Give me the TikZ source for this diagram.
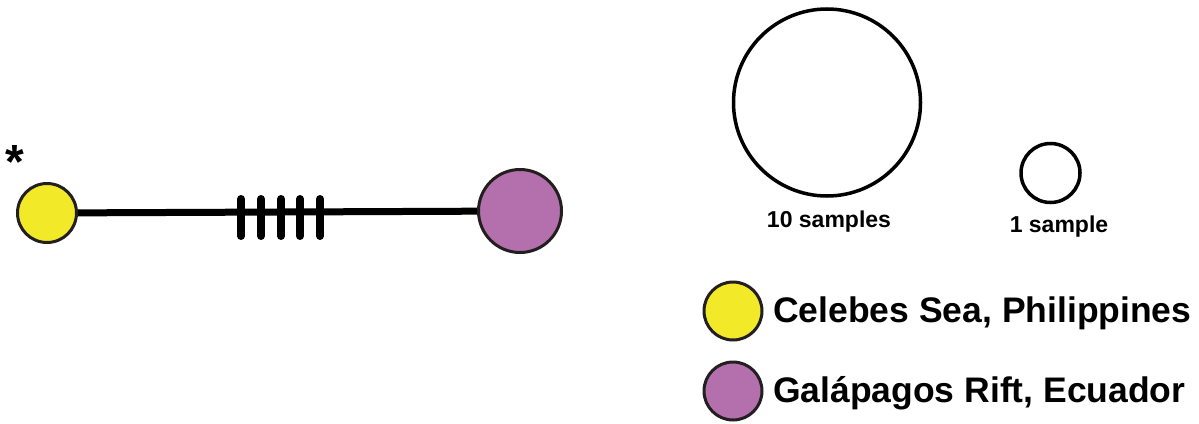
\documentclass[tikz,border=0pt]{standalone}
\usepackage{fontspec}
\setmainfont{Liberation Sans}
\definecolor{hapyellow}{RGB}{242,233,41}
\definecolor{happurple}{RGB}{179,112,173}
\definecolor{rim}{RGB}{35,31,32}
\begin{document}
\begin{tikzpicture}[x=1pt,y=-1pt,
  hap/.style={circle,draw=rim,line width=3pt,inner sep=0pt},
  keycirc/.style={circle,draw=black,line width=3.5pt,fill=white,inner sep=0pt},
  link/.style={line width=7pt,black},
  tick/.style={line width=8pt,line cap=round,black},
  lbl/.style={font=\bfseries\fontsize{35.5}{38}\selectfont,anchor=base west,inner sep=0pt},
  sizelbl/.style={font=\bfseries\fontsize{23}{26}\selectfont,inner sep=0pt}]
\useasboundingbox (0,0) rectangle (1199,423);
% network
\node[hap,fill=hapyellow,minimum size=59pt] (y) at (47,213) {};
\node[hap,fill=happurple,minimum size=83pt] (p) at (520,211) {};
\draw[link] (y) -- (p);
\foreach \tx in {241,261,281,300,320}
  \draw[tick] (\tx,199) -- (\tx,236);
\node[font=\bfseries\fontsize{48}{50}\selectfont,inner sep=0pt,anchor=base] (star) at (15,178) {*};
% size key
\node[keycirc,minimum size=187pt] (big) at (827,102.5) {};
\node[keycirc,minimum size=59pt] (small) at (1050.5,173) {};
\node[sizelbl,anchor=base] (bigl) at (829,227) {10 samples};
\node[sizelbl,anchor=base] (smalll) at (1059,232) {1 sample};
% colour key
\node[hap,fill=hapyellow,minimum size=58pt] (ky) at (733,311) {};
\node[hap,fill=happurple,minimum size=58pt] (kp) at (733,391) {};
\node[lbl] (kyl) at (773,322) {Celebes Sea, Philippines};
\node[lbl] (kpl) at (773,402) {Galápagos Rift, Ecuador};
\end{tikzpicture}
\end{document}
